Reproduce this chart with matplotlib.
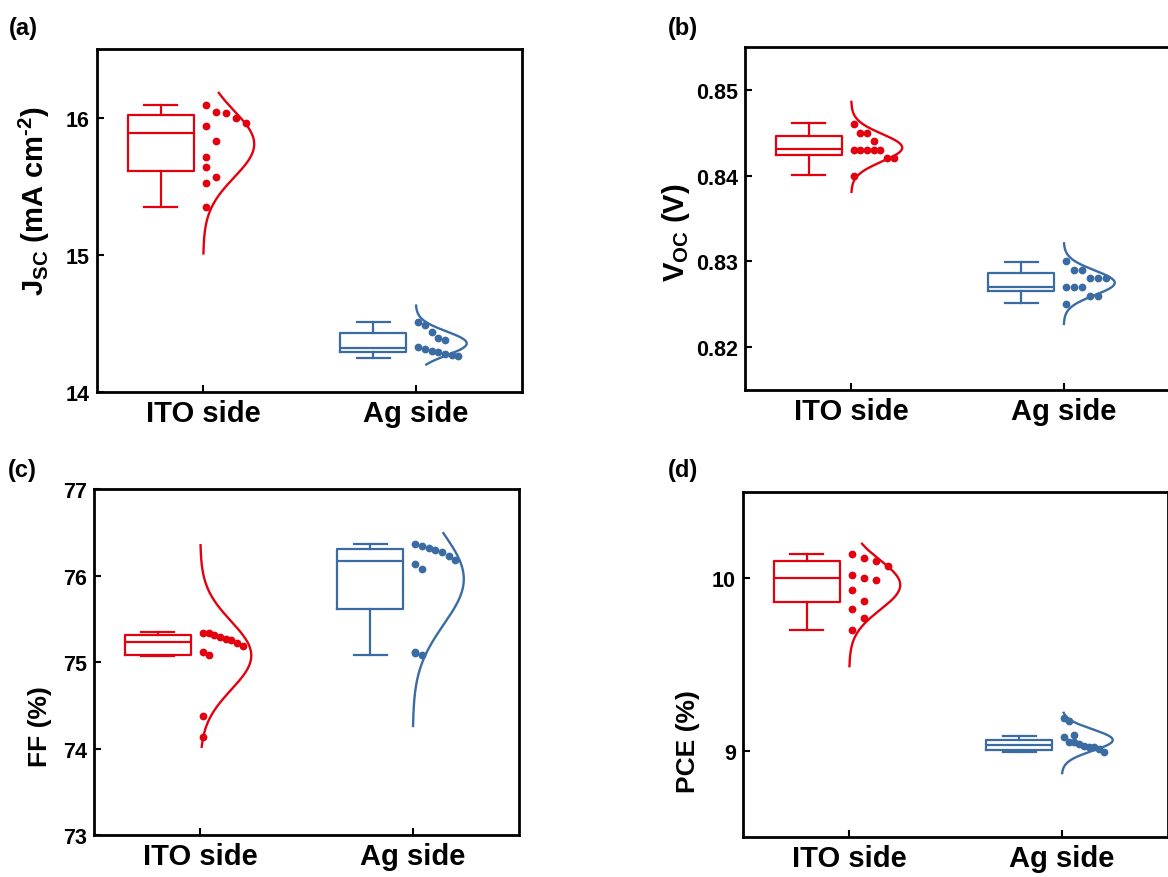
import numpy as np
import matplotlib
matplotlib.use('Agg')
import matplotlib.pyplot as plt

plt.rcParams['font.family'] = ['Liberation Sans', 'DejaVu Sans']
plt.rcParams['font.weight'] = 'bold'
plt.rcParams['mathtext.fontset'] = 'custom'
plt.rcParams['mathtext.rm'] = 'Liberation Sans:bold'
plt.rcParams['mathtext.it'] = 'Liberation Sans:bold'
plt.rcParams['mathtext.bf'] = 'Liberation Sans:bold'

groups = ['ITO side', 'Ag side']
colors = ['#E3000F', '#3A6CA3']

# Jsc (mA cm-2)
jsc_ito = [16.09, 16.04, 16.03, 16.00, 15.96, 15.94, 15.83, 15.71, 15.64, 15.57, 15.52, 15.35]
jsc_ag = [14.51, 14.49, 14.44, 14.39, 14.38, 14.33, 14.31, 14.30, 14.29, 14.28, 14.27, 14.26]
# box: whisker low, q1, median, q3, whisker high
jsc_box = [(15.35, 15.61, 15.89, 16.02, 16.09), (14.25, 14.29, 14.32, 14.43, 14.51)]
jsc_curve = [(15.01, 16.18), (14.20, 14.63)]

# Voc (V)
voc_ito = [0.846, 0.845, 0.845, 0.844, 0.843, 0.843, 0.843, 0.843, 0.843, 0.842, 0.842, 0.840]
voc_ag = [0.830, 0.829, 0.829, 0.828, 0.828, 0.828, 0.827, 0.827, 0.827, 0.826, 0.826, 0.825]
voc_box = [(0.8401, 0.8424, 0.8431, 0.8446, 0.8461), (0.8251, 0.8265, 0.8270, 0.8286, 0.8299)]
voc_curve = [(0.8381, 0.8486), (0.8227, 0.8321)]

# FF (%)
ff_ito = [75.34, 75.33, 75.31, 75.29, 75.27, 75.25, 75.22, 75.18, 75.12, 75.08, 74.38, 74.13]
ff_ag = [76.36, 76.34, 76.32, 76.30, 76.27, 76.23, 76.18, 76.13, 76.08, 75.12, 75.10, 75.08]
ff_box = [(75.07, 75.08, 75.23, 75.31, 75.35), (75.08, 75.61, 76.17, 76.31, 76.36)]
ff_curve = [(74.02, 76.35), (74.26, 76.49)]

# PCE (%)
pce_ito = [10.14, 10.12, 10.10, 10.07, 10.02, 10.00, 9.99, 9.93, 9.87, 9.82, 9.77, 9.70]
pce_ag = [9.19, 9.17, 9.09, 9.08, 9.05, 9.05, 9.04, 9.03, 9.02, 9.02, 9.01, 8.99]
pce_box = [(9.70, 9.86, 10.00, 10.10, 10.14), (8.994, 9.006, 9.035, 9.063, 9.086)]
pce_curve = [(9.49, 10.20), (8.87, 9.22)]


def bin_offsets(vals, px_per_unit, bin_px=18.0, span=40.0):
    # points grouped in horizontal bins, laid out side by side (pixels)
    bw = bin_px / px_per_unit
    idx = np.floor((vals.max() - vals) / bw + 1e-9).astype(int)
    cols = np.zeros(len(vals))
    for b in np.unique(idx):
        members = np.where(idx == b)[0]
        members = members[np.argsort(-vals[members], kind='stable')]
        cols[members] = np.arange(len(members))
    nmax = cols.max()
    step = min(span / nmax, 12.0) if nmax > 0 else 0.0
    return cols * step


def panel(ax, data, boxes, curves, ylim, yticks, ylabel, label_xy, label_size):
    ax.set_xlim(0.5, 2.5)
    ax.set_ylim(*ylim)
    pos = ax.get_position()
    fig = ax.figure
    ypx = pos.height * fig.get_figheight() * fig.dpi / (ylim[1] - ylim[0])
    xpx = pos.width * fig.get_figwidth() * fig.dpi / 2.0
    for i, (vals, b, cr, c) in enumerate(zip(data, boxes, curves, colors)):
        x0 = i + 1
        st = dict(whislo=b[0], q1=b[1], med=b[2], q3=b[3], whishi=b[4], fliers=[])
        lp = dict(color=c, lw=1.6)
        ax.bxp([st], positions=[x0 - 0.2], widths=0.31, capwidths=0.155,
               showfliers=False, boxprops=lp, whiskerprops=lp, capprops=lp,
               medianprops=lp, manage_ticks=False)
        vals = np.asarray(vals)
        xs = x0 + 0.012 + bin_offsets(vals, ypx) / xpx
        ax.plot(xs, vals, 'o', color=c, ms=5.6, mec='none', zorder=4)
        m, s = vals.mean(), vals.std(ddof=1)
        yy = np.linspace(cr[0], cr[1], 300)
        ax.plot(x0 + 0.24 * np.exp(-0.5 * ((yy - m) / s)**2), yy, color=c, lw=1.7)
    ax.set_xticks([1, 2])
    ax.set_xticklabels(groups, fontsize=21, fontweight='bold')
    ax.set_yticks(yticks)
    ax.tick_params(axis='y', labelsize=15.5, direction='in', length=5, width=1.5, pad=5)
    ax.tick_params(axis='x', direction='in', length=5, width=1.5, pad=5)
    for sp in ax.spines.values():
        sp.set_linewidth(2)
    ax.set_ylabel(ylabel, fontsize=label_size, fontweight='bold')
    ax.yaxis.set_label_coords(*label_xy)


fig = plt.figure(figsize=(11.68, 8.78), dpi=100)
ax_a = fig.add_axes([0.0830, 0.5524, 0.3639, 0.3907])
ax_b = fig.add_axes([0.6378, 0.5547, 0.3639, 0.3907])
ax_c = fig.add_axes([0.0805, 0.0478, 0.3639, 0.3941])
ax_d = fig.add_axes([0.6361, 0.0456, 0.3639, 0.3929])

panel(ax_a, [jsc_ito, jsc_ag], jsc_box, jsc_curve, (14, 16.5), [14, 15, 16],
      r'J$_{\rm SC}$ (mA cm$^{\text{-2}}$)', (-0.105, 0.56), 21)
panel(ax_b, [voc_ito, voc_ag], voc_box, voc_curve, (0.815, 0.855), [0.82, 0.83, 0.84, 0.85],
      r'V$_{\rm OC}$ (V)', (-0.125, 0.46), 21)
panel(ax_c, [ff_ito, ff_ag], ff_box, ff_curve, (73, 77), [73, 74, 75, 76, 77],
      'FF (%)', (-0.099, 0.315), 19)
panel(ax_d, [pce_ito, pce_ag], pce_box, pce_curve, (8.5, 10.5), [9, 10],
      'PCE (%)', (-0.101, 0.28), 19)

for t, x, y in [('(a)', 0.008, 0.967), ('(b)', 0.572, 0.967),
                ('(c)', 0.007, 0.4636), ('(d)', 0.572, 0.4636)]:
    fig.text(x, y, t, fontsize=17, fontweight='bold', ha='left', va='center')

fig.savefig('out.png', dpi=100)
